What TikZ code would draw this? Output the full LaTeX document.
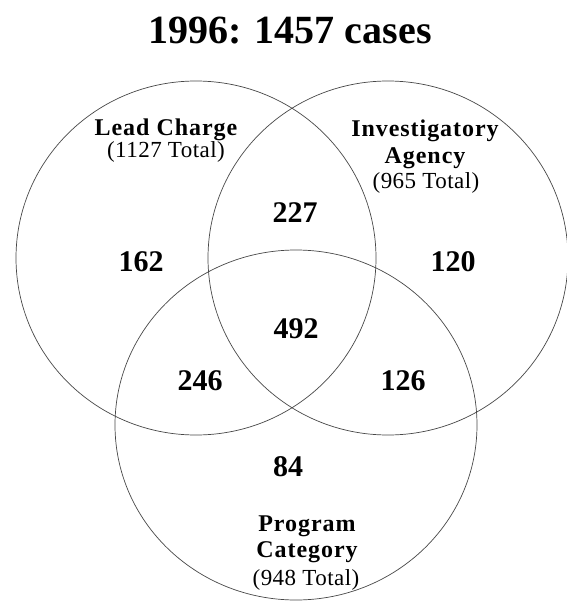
\documentclass[tikz,border=0pt]{standalone}
\usepackage{fontspec}
\setmainfont{Liberation Serif}
\begin{document}
\begin{tikzpicture}[x=1pt,y=-1pt,
  setline/.style={draw=black!72, line width=0.7pt},
  num/.style={font=\fontsize{30}{30}\selectfont\bfseries, inner sep=0pt},
  lbl/.style={font=\fontsize{24}{26}\selectfont\bfseries\addfontfeature{LetterSpace=4}, inner sep=0pt},
  tot/.style={font=\fontsize{23}{26}\selectfont\addfontfeature{LetterSpace=2}, inner sep=0pt}]
\useasboundingbox[fill=white] (0,0) rectangle (566,602);
% title
\node[font=\fontsize{40}{40}\selectfont\bfseries, inner sep=0pt] (title) at (290,31) {1996: 1457 cases};
% sets
\draw[setline] (196,258) ellipse [x radius=180pt, y radius=177pt];
\draw[setline] (388,258) ellipse [x radius=180pt, y radius=177pt];
\draw[setline] (296,425) ellipse [x radius=181pt, y radius=175pt];
% set labels
\node[lbl] (lc) at (166,130) {Lead Charge};
\node[tot] (lct) at (166,152) {(1127 Total)};
\node[lbl] (ia1) at (425,131) {Investigatory};
\node[lbl] (ia2) at (425,158) {Agency};
\node[tot] (iat) at (426,183) {(965 Total)};
\node[lbl] (pc1) at (307,526) {Program};
\node[lbl] (pc2) at (307,552) {Category};
\node[tot] (pct) at (306,580) {(948 Total)};
% region counts
\node[num] (n227) at (295,213) {227};
\node[num] (n162) at (141,262) {162};
\node[num] (n120) at (453,262) {120};
\node[num] (n492) at (296,329) {492};
\node[num] (n246) at (200,381) {246};
\node[num] (n126) at (403,381) {126};
\node[num] (n84) at (288,467) {84};
\end{tikzpicture}
\end{document}
